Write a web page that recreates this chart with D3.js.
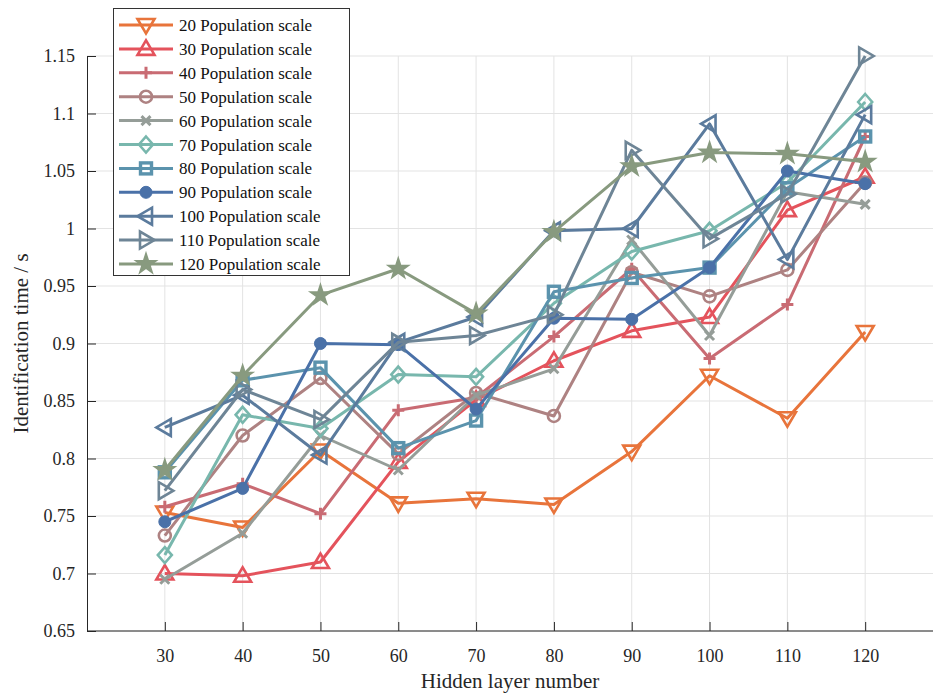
<!DOCTYPE html>
<html>
<head>
<meta charset="utf-8">
<script src="https://cdn.jsdelivr.net/npm/d3@7"></script>
<style>
  body { margin: 0; background: #fff; }
</style>
</head>
<body>
<div id="chart"></div>
<script>
/* DATA */
const hiddenLayers = [30, 40, 50, 60, 70, 80, 90, 100, 110, 120];
const seriesNames = ["20 Population scale", "30 Population scale", "40 Population scale",
  "50 Population scale", "60 Population scale", "70 Population scale", "80 Population scale",
  "90 Population scale", "100 Population scale", "110 Population scale", "120 Population scale"];
const pop20  = [0.753, 0.740, 0.807, 0.761, 0.765, 0.760, 0.806, 0.872, 0.835, 0.910];
const pop30  = [0.700, 0.698, 0.710, 0.797, 0.851, 0.885, 0.911, 0.923, 1.016, 1.045];
const pop40  = [0.758, 0.778, 0.752, 0.842, 0.853, 0.906, 0.965, 0.887, 0.934, 1.080];
const pop50  = [0.733, 0.820, 0.870, 0.804, 0.857, 0.837, 0.962, 0.941, 0.964, 1.040];
const pop60  = [0.695, 0.735, 0.820, 0.790, 0.855, 0.878, 0.990, 0.907, 1.032, 1.021];
const pop70  = [0.716, 0.838, 0.826, 0.873, 0.871, 0.935, 0.980, 0.998, 1.040, 1.110];
const pop80  = [0.788, 0.868, 0.879, 0.809, 0.833, 0.945, 0.957, 0.966, 1.035, 1.080];
const pop90  = [0.745, 0.774, 0.900, 0.899, 0.843, 0.922, 0.921, 0.966, 1.050, 1.039];
const pop100 = [0.827, 0.855, 0.803, 0.901, 0.923, 0.998, 1.000, 1.091, 0.973, 1.099];
const pop110 = [0.772, 0.860, 0.834, 0.901, 0.907, 0.925, 1.068, 0.991, 1.030, 1.150];
const pop120 = [0.790, 0.872, 0.942, 0.965, 0.926, 0.997, 1.054, 1.066, 1.065, 1.058];
const yTicks = [0.65, 0.7, 0.75, 0.8, 0.85, 0.9, 0.95, 1, 1.05, 1.1, 1.15];

const allValues = [pop20, pop30, pop40, pop50, pop60, pop70, pop80, pop90, pop100, pop110, pop120];
const colors = ["#e8743b", "#e4535c", "#c96b73", "#ae8282", "#959d98", "#78b7ad",
  "#5b93ad", "#4a71a8", "#5b7b9d", "#6e8596", "#889a7f"];
const markers = ["tridown", "triup", "plus", "circle", "cross", "diamond", "square",
  "dot", "trileft", "triright", "star"];

const serif = "'Liberation Serif', 'DejaVu Serif', serif";

/* SIZE */
const width = 933, height = 693;
const margin = { top: 56, right: 0, bottom: 62, left: 87 };

const svg = d3.select("#chart").append("svg")
  .attr("width", width)
  .attr("height", height)
  .style("font-family", serif);

/* SCALES */
const xScale = d3.scaleLinear()
  .domain([20, 130])
  .range([margin.left, 943]);

const yScale = d3.scaleLinear()
  .domain([0.65, 1.15])
  .range([height - margin.bottom, margin.top]);

/* GRID */
svg.append("g").selectAll("line")
  .data(hiddenLayers)
  .join("line")
  .attr("x1", d => xScale(d)).attr("x2", d => xScale(d))
  .attr("y1", yScale(0.65)).attr("y2", yScale(1.15))
  .attr("stroke", "#e3e3e3").attr("stroke-width", 1);

svg.append("g").selectAll("line")
  .data(yTicks)
  .join("line")
  .attr("x1", margin.left).attr("x2", width)
  .attr("y1", d => yScale(d)).attr("y2", d => yScale(d))
  .attr("stroke", "#e3e3e3").attr("stroke-width", 1);

/* AXES */
const xAxis = svg.append("g")
  .attr("transform", `translate(0,${yScale(0.65)})`)
  .call(d3.axisBottom(xScale).tickValues(hiddenLayers).tickSizeInner(-9).tickSizeOuter(0).tickPadding(18));
xAxis.attr("font-family", null);
xAxis.select(".domain").attr("stroke", "#262626").attr("d", `M${margin.left},0H${width}`);
xAxis.selectAll(".tick line").attr("stroke", "#262626");
xAxis.selectAll("text").style("font-size", "18px").attr("fill", "#262626");

const yAxis = svg.append("g")
  .attr("transform", `translate(${margin.left},0)`)
  .call(d3.axisLeft(yScale).tickValues(yTicks).tickFormat(d3.format("~g")).tickSizeInner(-9).tickSizeOuter(0).tickPadding(12));
yAxis.attr("font-family", null);
yAxis.select(".domain").attr("stroke", "#262626");
yAxis.selectAll(".tick line").attr("stroke", "#262626");
yAxis.selectAll("text").style("font-size", "18px").attr("fill", "#262626");

svg.append("text")
  .attr("x", 510).attr("y", 688)
  .attr("text-anchor", "middle")
  .style("font-size", "21px").attr("fill", "#262626")
  .text("Hidden layer number");

svg.append("text")
  .attr("transform", `translate(28,${yScale(0.9)}) rotate(-90)`)
  .attr("text-anchor", "middle")
  .style("font-size", "21px").attr("fill", "#262626")
  .text("Identification time / s");

/* MARKERS */
function drawMarker(g, type, color) {
  const sw = 2.6;
  if (type === "tridown") {
    g.append("path").attr("d", "M-8.5,-6L8.5,-6L0,8.5Z").attr("fill", "none").attr("stroke", color).attr("stroke-width", sw);
  } else if (type === "triup") {
    g.append("path").attr("d", "M-8.5,6L8.5,6L0,-8.5Z").attr("fill", "none").attr("stroke", color).attr("stroke-width", sw);
  } else if (type === "trileft") {
    g.append("path").attr("d", "M6,-8.5L6,8.5L-8.5,0Z").attr("fill", "none").attr("stroke", color).attr("stroke-width", sw);
  } else if (type === "triright") {
    g.append("path").attr("d", "M-6,-8.5L-6,8.5L8.5,0Z").attr("fill", "none").attr("stroke", color).attr("stroke-width", sw);
  } else if (type === "plus") {
    g.append("path").attr("d", "M-6,0H6M0,-6V6").attr("stroke", color).attr("stroke-width", sw + 0.4);
  } else if (type === "cross") {
    g.append("path").attr("d", "M-4.5,-4.5L4.5,4.5M-4.5,4.5L4.5,-4.5").attr("stroke", color).attr("stroke-width", sw + 0.4);
  } else if (type === "circle") {
    g.append("circle").attr("r", 6).attr("fill", "none").attr("stroke", color).attr("stroke-width", sw);
  } else if (type === "dot") {
    g.append("circle").attr("r", 6).attr("fill", color).attr("stroke", color).attr("stroke-width", 1);
  } else if (type === "diamond") {
    g.append("path").attr("d", "M0,-8L7,0L0,8L-7,0Z").attr("fill", "none").attr("stroke", color).attr("stroke-width", sw);
  } else if (type === "square") {
    g.append("rect").attr("x", -5.5).attr("y", -5.5).attr("width", 11).attr("height", 11)
      .attr("fill", "none").attr("stroke", color).attr("stroke-width", sw + 0.8);
  } else if (type === "star") {
    g.append("path").attr("d", d3.symbol().type(d3.symbolStar).size(130)()).attr("fill", color).attr("stroke", color).attr("stroke-width", 1.5);
  }
}

/* LINES */
const line = d3.line()
  .x((d, i) => xScale(hiddenLayers[i]))
  .y(d => yScale(d));

allValues.forEach((vals, s) => {
  const g = svg.append("g").attr("class", "series");
  g.append("path")
    .datum(vals)
    .attr("d", line)
    .attr("fill", "none")
    .attr("stroke", colors[s])
    .attr("stroke-width", 3)
    .attr("stroke-linejoin", "round");
  g.selectAll(".pt")
    .data(vals)
    .join("g")
    .attr("class", "pt")
    .attr("transform", (d, i) => `translate(${xScale(hiddenLayers[i])},${yScale(d)})`)
    .each(function () { drawMarker(d3.select(this), markers[s], colors[s]); });
});

/* LEGEND */
const legend = svg.append("g");
legend.append("rect")
  .attr("x", 113.5).attr("y", 8.5)
  .attr("width", 236).attr("height", 267)
  .attr("fill", "#fff").attr("stroke", "#333").attr("stroke-width", 1);

seriesNames.forEach((name, s) => {
  const y = 25 + s * 23.9;
  const row = legend.append("g").attr("transform", `translate(0,${y})`);
  row.append("line").attr("x1", 119).attr("x2", 173).attr("y1", 0).attr("y2", 0)
    .attr("stroke", colors[s]).attr("stroke-width", 3);
  drawMarker(row.append("g").attr("transform", "translate(146,0)"), markers[s], colors[s]);
  row.append("text").attr("x", 179).attr("y", 6)
    .style("font-size", "17px").attr("fill", "#111")
    .text(name);
});
</script>
</body>
</html>
